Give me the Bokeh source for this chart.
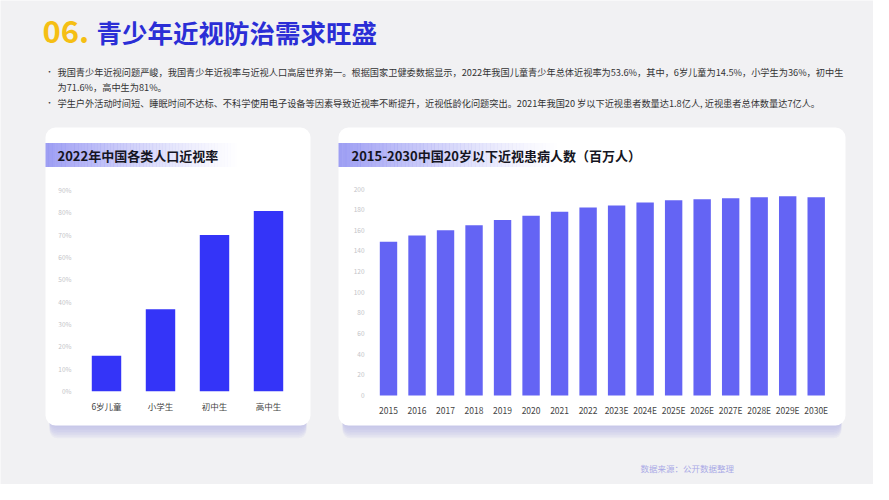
from bokeh.plotting import figure
from bokeh.models import Range1d, LinearAxis, FixedTicker, PrintfTickFormatter
from bokeh.core.properties import value
from bokeh.embed import file_html
from bokeh.resources import INLINE

# ---------------- data ----------------
left_categories = ["6岁儿童", "小学生", "初中生", "高中生"]
left_rates = [15.8, 36.6, 69.8, 80.5]
left_ticks = [0, 10, 20, 30, 40, 50, 60, 70, 80, 90]

right_years = ["2015", "2016", "2017", "2018", "2019", "2020", "2021", "2022",
               "2023E", "2024E", "2025E", "2026E", "2027E", "2028E", "2029E", "2030E"]
right_counts = [149, 155, 160, 165, 170, 174, 178, 182, 184, 187, 189, 190, 191, 192, 193, 192]
right_ticks = [0, 20, 40, 60, 80, 100, 120, 140, 160, 180, 200]

title_num = "06."
title_text = "青少年近视防治需求旺盛"
bullet_lines = [
    "我国青少年近视问题严峻，我国青少年近视率与近视人口高居世界第一。根据国家卫健委数据显示，2022年我国儿童青少年总体近视率为53.6%，其中，6岁儿童为14.5%，小学生为36%，初中生",
    "为71.6%，高中生为81%。",
    "学生户外活动时间短、睡眠时间不达标、不科学使用电子设备等因素导致近视率不断提升，近视低龄化问题突出。2021年我国20 岁以下近视患者数量达1.8亿人, 近视患者总体数量达7亿人。",
]
left_title = "2022年中国各类人口近视率"
right_title = "2015-2030中国20岁以下近视患病人数（百万人）"
source_text = "数据来源：公开数据整理"

# ---------------- layout constants ----------------
FONT = "Noto Sans CJK SC"
BG = "#f1f1f3"
W, H = 873, 484
X0, Y0 = 0, 0

p = figure(width=W, height=H, x_range=Range1d(X0, X0 + W), y_range=Range1d(Y0 + H, Y0),
           x_axis_type=None, y_axis_type=None, toolbar_location=None,
           output_backend="svg", min_border=0, outline_line_color=None,
           background_fill_color=BG, border_fill_color=BG)


def xrange_from(v0, p0, v1, p1):
    k = (p1 - p0) / (v1 - v0)
    start = v0 - (p0 - X0) / k
    return Range1d(start, start + W / k)


def yrange_from(v0, p0, v1, p1):
    b0 = Y0 + H - p0
    b1 = Y0 + H - p1
    k = (b1 - b0) / (v1 - v0)
    start = v0 - b0 / k
    return Range1d(start, start + H / k)


def x_at(rng, px):
    return rng.start + (px - X0) / W * (rng.end - rng.start)


lx = xrange_from(0, 106, 3, 268)
ly = yrange_from(0, 390.7, 90, 189.3)
rx = xrange_from(0, 388, 15, 815.7)
ry = yrange_from(0, 395, 200, 188.5)
p.extra_x_ranges = {"lx": lx, "rx": rx}
p.extra_y_ranges = {"ly": ly, "ry": ry}

# ---------------- title & bullets ----------------
p.text(x=[42], y=[31], text=[title_num], text_font=value(FONT), text_font_style="bold",
       text_font_size="31px", text_color="#F5BF14", text_baseline="middle")
p.text(x=[96], y=[31], text=[title_text], text_font=value(FONT), text_font_style="bold",
       text_font_size="25.5px", text_color="#2B2ED6", text_baseline="middle")

p.text(x=[45, 45], y=[71, 102], text=["•", "•"], text_font=value(FONT),
       text_font_size="8px", text_color="#444444", text_baseline="middle")
p.text(x=[57, 57, 57], y=[71, 86, 102], text=bullet_lines, text_font=value(FONT),
       text_font_size="9.2px", text_color="#333333", text_baseline="middle")

# ---------------- cards ----------------
cards = [(45, 310), (338, 845)]
CT, CB = 127, 425
for (cl, cr) in cards:
    for i in range(8):
        p.quad(left=cl + 4, right=cr - 4, top=CT + 20, bottom=CB + 1.6 * (i + 1),
               fill_color="#b5b5ea", fill_alpha=0.12, line_color=None, border_radius=8)
    p.quad(left=cl, right=cr, top=CT, bottom=CB, fill_color="white", line_color=None,
           border_radius=10)

# header gradient bands
N = 60
for (bl, br) in [(45, 240), (338, 560)]:
    step = (br - bl) / N
    for i in range(N):
        t = i / N
        p.quad(left=bl + i * step, right=bl + (i + 1) * step + 0.3, top=142.5, bottom=166.5,
               fill_color="#8d8ef1", fill_alpha=0.85 * (1 - t) ** 1.3, line_color=None)

p.text(x=[57], y=[155], text=[left_title], text_font=value(FONT), text_font_style="bold",
       text_font_size="13px", text_color="#151522", text_baseline="middle")
p.text(x=[351], y=[155], text=[right_title], text_font=value(FONT), text_font_style="bold",
       text_font_size="13px", text_color="#151522", text_baseline="middle")

# ---------------- bars ----------------
p.vbar(x=list(range(len(left_categories))), top=left_rates, bottom=0, width=0.545,
       x_range_name="lx", y_range_name="ly", fill_color="#3434F8", line_color=None)
p.vbar(x=list(range(len(right_years))), top=right_counts, bottom=0, width=0.61,
       x_range_name="rx", y_range_name="ry", fill_color="#6464F4", line_color=None)


def style_axis(ax, size, color):
    ax.axis_line_color = None
    ax.major_tick_line_color = None
    ax.minor_tick_line_color = None
    ax.major_label_text_font = FONT
    ax.major_label_text_font_size = size
    ax.major_label_text_color = color


# left chart axes
ly_axis = LinearAxis(x_range_name="lx", y_range_name="ly", fixed_location=x_at(lx, 80),
                     ticker=FixedTicker(ticks=left_ticks),
                     formatter=PrintfTickFormatter(format="%d%%"), major_label_standoff=3)
style_axis(ly_axis, "6.5px", "#c4c4c8")
p.add_layout(ly_axis, "left")

lx_axis = LinearAxis(x_range_name="lx", y_range_name="ly", fixed_location=0,
                     ticker=FixedTicker(ticks=list(range(len(left_categories)))),
                     major_label_overrides={i: c for i, c in enumerate(left_categories)},
                     major_label_standoff=3)
style_axis(lx_axis, "8.5px", "#444444")
p.add_layout(lx_axis, "below")

# right chart axes
ry_axis = LinearAxis(x_range_name="rx", y_range_name="ry", fixed_location=x_at(rx, 373),
                     ticker=FixedTicker(ticks=right_ticks), major_label_standoff=3)
style_axis(ry_axis, "6.5px", "#c4c4c8")
p.add_layout(ry_axis, "left")

rx_axis = LinearAxis(x_range_name="rx", y_range_name="ry", fixed_location=0,
                     ticker=FixedTicker(ticks=list(range(len(right_years)))),
                     major_label_overrides={i: c for i, c in enumerate(right_years)},
                     major_label_standoff=2)
style_axis(rx_axis, "8.5px", "#444444")
p.add_layout(rx_axis, "below")

# ---------------- source ----------------
p.text(x=[640], y=[467], text=[source_text], text_font=value(FONT),
       text_font_size="8.5px", text_color="#a9a9e6", text_baseline="middle")

open("out.html", "w").write(file_html(p, INLINE))
